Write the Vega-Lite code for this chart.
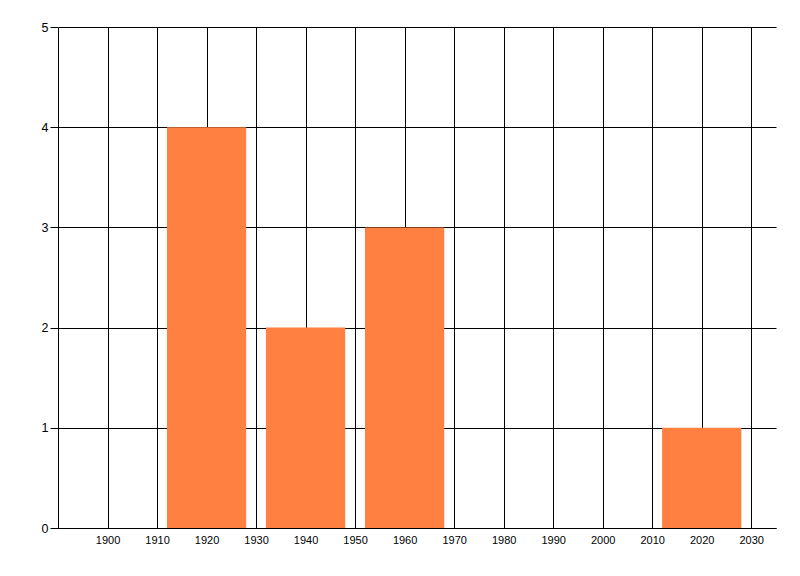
{
  "$schema": "https://vega.github.io/schema/vega-lite/v6.json",
  "autosize": "none",
  "width": 718,
  "height": 501,
  "padding": {"left": 58, "top": 27, "right": 24, "bottom": 48},
  "background": "white",
  "config": {
    "view": {"stroke": null},
    "font": "Liberation Sans",
    "axis": {
      "labelFont": "Liberation Sans",
      "labelFontSize": 11,
      "labelColor": "#000000",
      "domainColor": "#000000",
      "domainWidth": 1,
      "gridColor": "#000000",
      "gridOpacity": 1,
      "gridWidth": 1,
      "tickColor": "#000000",
      "title": null
    }
  },
  "data": {
    "values": [
      {"year": 1920, "start": 1912, "end": 1928, "count": 4},
      {"year": 1940, "start": 1932, "end": 1948, "count": 2},
      {"year": 1960, "start": 1952, "end": 1968, "count": 3},
      {"year": 2020, "start": 2012, "end": 2028, "count": 1}
    ]
  },
  "mark": {"type": "rect", "color": "#FF8040"},
  "encoding": {
    "x": {
      "field": "start",
      "type": "quantitative",
      "scale": {"domain": [1890, 2035], "nice": false, "zero": false},
      "axis": {
        "values": [1900, 1910, 1920, 1930, 1940, 1950, 1960, 1970, 1980, 1990, 2000, 2010, 2020, 2030],
        "format": "d",
        "ticks": false,
        "labelPadding": 6,
        "grid": true,
        "labelFlush": false
      }
    },
    "x2": {"field": "end"},
    "y": {
      "field": "count",
      "type": "quantitative",
      "scale": {"domain": [0, 5], "nice": false},
      "axis": {
        "values": [0, 1, 2, 3, 4, 5],
        "tickSize": 8,
        "labelPadding": 2,
        "grid": true,
        "labelFlush": false,
        "labelFontSize": 12.5
      }
    },
    "y2": {"datum": 0}
  }
}
